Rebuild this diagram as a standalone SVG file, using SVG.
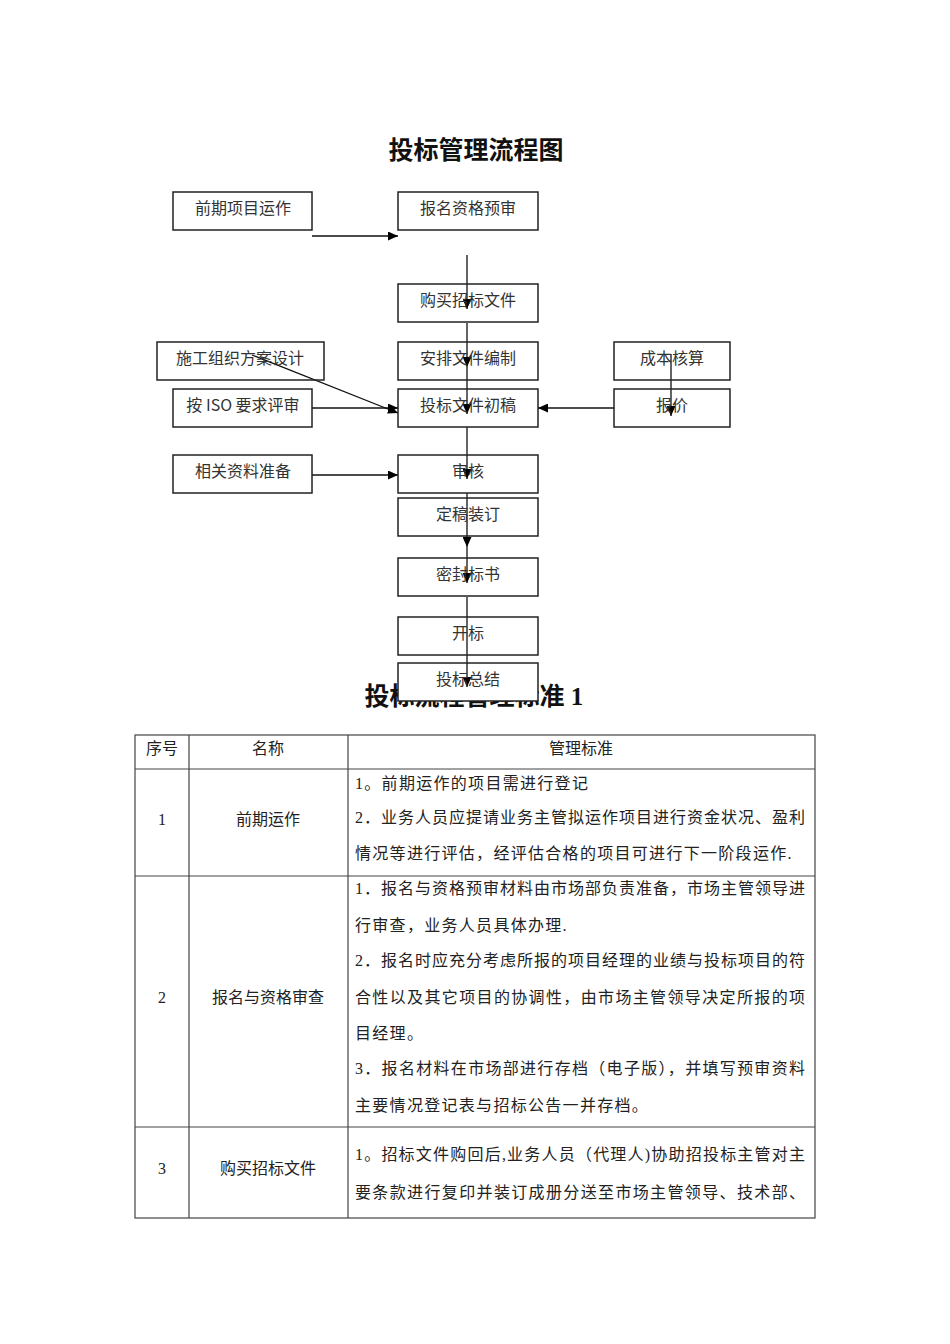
<svg xmlns="http://www.w3.org/2000/svg" width="950" height="1344" viewBox="0 0 950 1344">
<style>
.box{fill:#fff;stroke:#222;stroke-width:1.5}
.bt{font-family:"Noto Sans CJK SC","Liberation Sans",sans-serif;font-size:16px;fill:#333;text-anchor:middle}
.conn{stroke:#111;stroke-width:1.3;fill:none}
.title{font-family:"Noto Sans CJK SC",sans-serif;font-weight:bold;font-size:25px;fill:#111;text-anchor:middle}
.title2{font-family:"Liberation Serif","Noto Sans CJK SC",serif;font-weight:bold;font-size:25px;fill:#111;text-anchor:middle}
.grid{stroke:#444;stroke-width:1.2;fill:none}
.tt{font-family:"Liberation Serif","Noto Sans CJK SC",serif;font-size:16px;fill:#222}
.tc{text-anchor:middle}
.tl{letter-spacing:1.3px}
</style>
<defs>
<marker id="ah" markerUnits="userSpaceOnUse" markerWidth="10" markerHeight="9" refX="10" refY="4.5" orient="auto">
<path d="M0,0 L10,4.5 L0,9 z" fill="#000"/>
</marker>
</defs>
<rect width="950" height="1344" fill="#fff"/>
<text class="title" x="476" y="159">投标管理流程图</text>
<text class="title2" x="474" y="705">投标流程管理标准 1</text>

<g id="connectors">
<line class="conn" x1="312" y1="236" x2="398" y2="236" marker-end="url(#ah)"/>
<line class="conn" x1="467" y1="255" x2="467" y2="309" marker-end="url(#ah)"/>
<line class="conn" x1="467" y1="323" x2="467" y2="367" marker-end="url(#ah)"/>
<line class="conn" x1="467" y1="367" x2="467" y2="414" marker-end="url(#ah)"/>
<line class="conn" x1="467" y1="427" x2="467" y2="479" marker-end="url(#ah)"/>
<line class="conn" x1="467" y1="493" x2="467" y2="547" marker-end="url(#ah)"/>
<line class="conn" x1="467" y1="547" x2="467" y2="583" marker-end="url(#ah)"/>
<line class="conn" x1="467" y1="597" x2="467" y2="687" marker-end="url(#ah)"/>
<line class="conn" x1="252" y1="355" x2="398" y2="413" marker-end="url(#ah)"/>
<line class="conn" x1="312" y1="408" x2="398" y2="408" marker-end="url(#ah)"/>
<line class="conn" x1="614" y1="408" x2="538" y2="408" marker-end="url(#ah)"/>
<line class="conn" x1="671" y1="354" x2="671" y2="416" marker-end="url(#ah)"/>
<line class="conn" x1="312" y1="475" x2="398" y2="475" marker-end="url(#ah)"/>
</g>

<g id="n1"><rect class="box" x="173" y="192" width="139" height="38" fill-opacity="0"/><text class="bt" x="243" y="214">前期项目运作</text></g>
<g id="n2"><rect class="box" x="398" y="192" width="140" height="38" fill-opacity="0"/><text class="bt" x="468" y="214">报名资格预审</text></g>
<g id="n3"><rect class="box" x="398" y="284" width="140" height="38" fill-opacity="0"/><text class="bt" x="468" y="306">购买招标文件</text></g>
<g id="n4"><rect class="box" x="157" y="342" width="167" height="38" fill-opacity="0"/><text class="bt" x="240" y="364">施工组织方案设计</text></g>
<g id="n5"><rect class="box" x="398" y="342" width="140" height="38" fill-opacity="0"/><text class="bt" x="468" y="364">安排文件编制</text></g>
<g id="n6"><rect class="box" x="614" y="342" width="116" height="38" fill-opacity="0"/><text class="bt" x="672" y="364">成本核算</text></g>
<g id="n7"><rect class="box" x="173" y="389" width="139" height="38" fill-opacity="0"/><text class="bt" x="243" y="411">按 ISO 要求评审</text></g>
<g id="n8"><rect class="box" x="398" y="389" width="140" height="38" fill-opacity="0"/><text class="bt" x="468" y="411">投标文件初稿</text></g>
<g id="n9"><rect class="box" x="614" y="389" width="116" height="38" fill-opacity="0"/><text class="bt" x="672" y="411">报价</text></g>
<g id="n10"><rect class="box" x="173" y="455" width="139" height="38" fill-opacity="0"/><text class="bt" x="243" y="477">相关资料准备</text></g>
<g id="n11"><rect class="box" x="398" y="455" width="140" height="38" fill-opacity="0"/><text class="bt" x="468" y="477">审核</text></g>
<g id="n12"><rect class="box" x="398" y="498" width="140" height="38" fill-opacity="0"/><text class="bt" x="468" y="520">定稿装订</text></g>
<g id="n13"><rect class="box" x="398" y="558" width="140" height="38" fill-opacity="0"/><text class="bt" x="468" y="580">密封标书</text></g>
<g id="n14"><rect class="box" x="398" y="617" width="140" height="38" fill-opacity="0"/><text class="bt" x="468" y="639">开标</text></g>
<g id="n15"><rect class="box" x="398" y="663" width="140" height="38" fill="#fff"/><line class="conn" x1="467" y1="663" x2="467" y2="687" marker-end="url(#ah)"/><text class="bt" x="468" y="685">投标总结</text></g>

<g id="table">
<rect class="grid" x="135" y="735" width="680" height="483"/>
<line class="grid" x1="189" y1="735" x2="189" y2="1218"/>
<line class="grid" x1="348" y1="735" x2="348" y2="1218"/>
<line class="grid" x1="135" y1="769" x2="815" y2="769"/>
<line class="grid" x1="135" y1="876" x2="815" y2="876"/>
<line class="grid" x1="135" y1="1127" x2="815" y2="1127"/>

<text class="tt tc" x="162" y="754">序号</text>
<text class="tt tc" x="268" y="754">名称</text>
<text class="tt tc" x="581" y="754">管理标准</text>

<text class="tt tc" x="162" y="825">1</text>
<text class="tt tc" x="268" y="825">前期运作</text>
<text class="tt tl" x="355" y="789">1。前期运作的项目需进行登记</text>
<text class="tt" x="355" y="823" textLength="450" lengthAdjust="spacing">2．业务人员应提请业务主管拟运作项目进行资金状况、盈利</text>
<text class="tt tl" x="355" y="859">情况等进行评估，经评估合格的项目可进行下一阶段运作.</text>

<text class="tt tc" x="162" y="1003">2</text>
<text class="tt tc" x="268" y="1003">报名与资格审查</text>
<text class="tt" x="355" y="894" textLength="450" lengthAdjust="spacing">1．报名与资格预审材料由市场部负责准备，市场主管领导进</text>
<text class="tt tl" x="355" y="931">行审查，业务人员具体办理.</text>
<text class="tt" x="355" y="966" textLength="450" lengthAdjust="spacing">2．报名时应充分考虑所报的项目经理的业绩与投标项目的符</text>
<text class="tt" x="355" y="1003" textLength="450" lengthAdjust="spacing">合性以及其它项目的协调性，由市场主管领导决定所报的项</text>
<text class="tt tl" x="355" y="1039">目经理。</text>
<text class="tt" x="355" y="1074" textLength="450" lengthAdjust="spacing">3．报名材料在市场部进行存档（电子版），并填写预审资料</text>
<text class="tt tl" x="355" y="1111">主要情况登记表与招标公告一并存档。</text>

<text class="tt tc" x="162" y="1174">3</text>
<text class="tt tc" x="268" y="1174">购买招标文件</text>
<text class="tt" x="355" y="1160" textLength="450" lengthAdjust="spacing">1。招标文件购回后,业务人员（代理人)协助招投标主管对主</text>
<text class="tt" x="355" y="1198" textLength="450" lengthAdjust="spacing">要条款进行复印并装订成册分送至市场主管领导、技术部、</text>
</g>
</svg>
